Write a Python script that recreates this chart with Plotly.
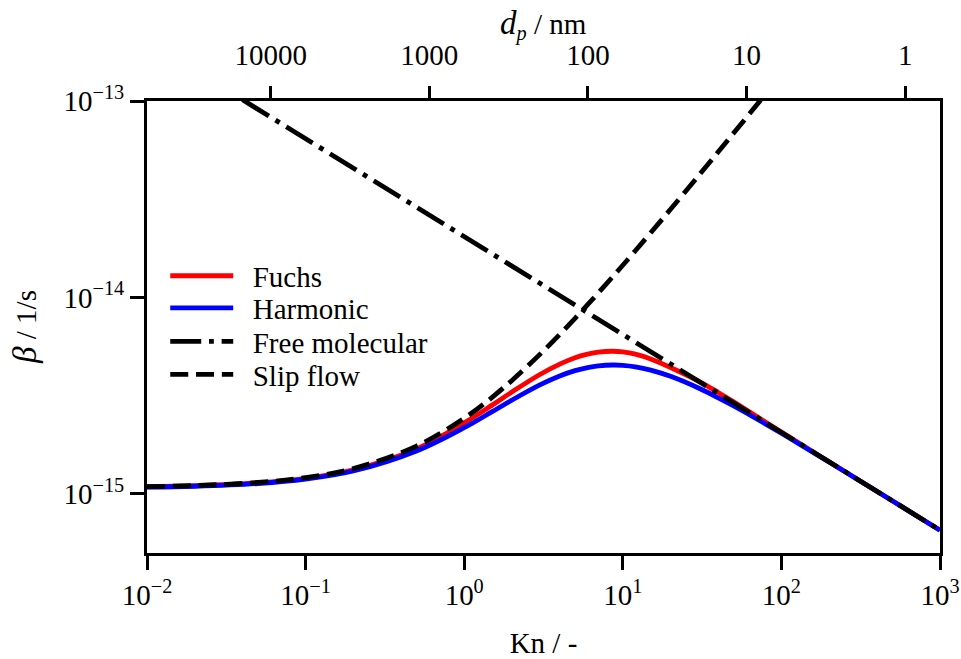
import numpy as np
import plotly.graph_objects as go

# Knudsen numbers at which the curves are sampled
kn = [0.01, 0.02, 0.05, 0.1, 0.2, 0.5, 1, 1.5, 2, 3, 4, 5, 6, 7, 8.7,
      10, 12, 15, 20, 30, 40, 50, 70, 100, 200, 500, 1000]

# Collision kernel beta [1/s]
beta_fuchs = [1.087e-15, 1.100e-15, 1.138e-15, 1.200e-15, 1.327e-15, 1.694e-15,
              2.301e-15, 2.830e-15, 3.301e-15, 4.052e-15, 4.578e-15, 4.937e-15,
              5.142e-15, 5.268e-15, 5.323e-15, 5.278e-15, 5.142e-15, 4.863e-15,
              4.401e-15, 3.751e-15, 3.282e-15, 2.941e-15, 2.478e-15, 2.065e-15,
              1.455e-15, 9.23e-16, 6.53e-16]
beta_harmonic = [1.0828e-15, 1.0937e-15, 1.1286e-15, 1.188e-15, 1.307e-15, 1.652e-15,
                 2.171e-15, 2.620e-15, 3.001e-15, 3.586e-15, 3.981e-15, 4.238e-15,
                 4.395e-15, 4.483e-15, 4.530e-15, 4.511e-15, 4.433e-15, 4.266e-15,
                 3.965e-15, 3.457e-15, 3.082e-15, 2.801e-15, 2.406e-15, 2.034e-15,
                 1.452e-15, 9.222e-16, 6.524e-16]

# Free molecular limit (straight line in log-log)
kn_fm = [0.04, 1000]
beta_fm = [1.015e-13, 6.53e-16]

# Slip flow (continuum with slip correction)
kn_slip = [0.01, 0.02, 0.05, 0.1, 0.2, 0.5, 1, 1.5, 2, 3, 4, 5, 6, 7, 8.7,
           10, 12, 15, 20, 30, 40, 50, 70, 80]
beta_slip = [1.0885e-15, 1.102e-15, 1.1426e-15, 1.210e-15, 1.345e-15, 1.751e-15,
             2.426e-15, 3.102e-15, 3.778e-15, 5.129e-15, 6.480e-15, 7.831e-15,
             9.183e-15, 1.0534e-14, 1.2831e-14, 1.459e-14, 1.729e-14, 2.134e-14,
             2.810e-14, 4.161e-14, 5.513e-14, 6.864e-14, 9.57e-14, 1.092e-13]

# Axis ticks
kn_ticks = [0.01, 0.1, 1, 10, 100, 1000]
kn_ticktext = ["10<sup>\u22122</sup>", "10<sup>\u22121</sup>", "10<sup>0</sup>",
               "10<sup>1</sup>", "10<sup>2</sup>", "10<sup>3</sup>"]
beta_ticks = [1e-15, 1e-14, 1e-13]
beta_ticktext = ["10<sup>\u221215</sup>", "10<sup>\u221214</sup>", "10<sup>\u221213</sup>"]
dp_ticks = [10000, 1000, 100, 10, 1]
dp_ticktext = ["10000", "1000", "100", "10", "1"]

# Kn = 2 * lambda / d_p  (gas mean free path in nm)
MEAN_FREE_PATH_NM = 301.5

KN_RANGE = (0.01, 1000)
BETA_RANGE = (5e-16, 1e-13)

FONT = "Liberation Serif"
FS = 29
LW = 4.8
PAD = "\u2002"

fig = go.Figure()
fig.add_trace(go.Scatter(x=kn, y=beta_fuchs, mode="lines", name=PAD + "Fuchs",
                         line=dict(color="#ff0000", width=LW, shape="spline"),
                         legend="legend"))
fig.add_trace(go.Scatter(x=kn, y=beta_harmonic, mode="lines", name=PAD + "Harmonic",
                         line=dict(color="#0000ff", width=LW, shape="spline"),
                         legend="legend2"))
fig.add_trace(go.Scatter(x=kn_fm, y=beta_fm, mode="lines", name=PAD + "Free molecular",
                         line=dict(color="black", width=LW, dash="31px,7.8px,4.8px,7.8px"),
                         legend="legend3"))
fig.add_trace(go.Scatter(x=kn_slip, y=beta_slip, mode="lines", name=PAD + "Slip flow",
                         line=dict(color="black", width=LW, dash="18px,7.8px", shape="spline"),
                         legend="legend4"))
# Particle diameter counterpart of the free molecular line, carried by the top axis
fig.add_trace(go.Scatter(x=[2 * MEAN_FREE_PATH_NM / k for k in kn_fm], y=beta_fm,
                         xaxis="x2", yaxis="y", mode="lines",
                         line=dict(width=0, color="rgba(0,0,0,0)"),
                         showlegend=False, hoverinfo="skip"))

tickfont = dict(family=FONT, size=FS, color="black")
axis_common = dict(type="log", showgrid=False, zeroline=False, showline=True,
                   linecolor="black", linewidth=3, ticks="outside", tickwidth=3,
                   tickcolor="black", tickfont=tickfont, automargin=False)

legend_common = dict(xanchor="left", yanchor="middle", bgcolor="rgba(0,0,0,0)",
                     borderwidth=0, font=dict(family=FONT, size=FS, color="black"),
                     itemwidth=63)
legend_x = 0.023
legend_rows = [0.613, 0.542, 0.468, 0.395]

fig.update_layout(
    width=961, height=659,
    margin=dict(l=147, r=21, t=101, b=106, pad=0),
    paper_bgcolor="white", plot_bgcolor="white",
    font=dict(family=FONT, size=FS, color="black"),
    showlegend=True,
    xaxis=dict(axis_common, range=[np.log10(KN_RANGE[0]), np.log10(KN_RANGE[1])],
               tickvals=kn_ticks, ticktext=kn_ticktext, ticklen=14, mirror=True,
               title=dict(text="Kn / -", font=dict(family=FONT, size=FS), standoff=23)),
    yaxis=dict(axis_common, range=[np.log10(BETA_RANGE[0]), np.log10(BETA_RANGE[1])],
               tickvals=beta_ticks, ticktext=beta_ticktext, ticklen=14, mirror=True),
    xaxis2=dict(axis_common, overlaying="x", side="top", anchor="y",
                range=[np.log10(2 * MEAN_FREE_PATH_NM / KN_RANGE[0]),
                       np.log10(2 * MEAN_FREE_PATH_NM / KN_RANGE[1])],
                tickvals=dp_ticks, ticktext=dp_ticktext, ticklen=12, ticklabelstandoff=9),
    legend=dict(legend_common, x=legend_x, y=legend_rows[0]),
    legend2=dict(legend_common, x=legend_x, y=legend_rows[1]),
    legend3=dict(legend_common, x=legend_x, y=legend_rows[2]),
    legend4=dict(legend_common, x=legend_x, y=legend_rows[3]),
)

# y-axis title
fig.add_annotation(text="<span style='font-size:33px'><i>\u03b2</i></span> / 1/s",
                   xref="paper", yref="paper", x=-0.154, y=0.5,
                   xanchor="center", yanchor="middle", textangle=-90, showarrow=False,
                   font=dict(family=FONT, size=FS, color="black"))
# top (particle diameter) axis title
fig.add_annotation(text="<span style='font-size:33px'><i>d</i></span><sub><i>p</i></sub> / nm",
                   xref="paper", yref="paper", x=0.5, y=1.168,
                   xanchor="center", yanchor="middle", showarrow=False,
                   font=dict(family=FONT, size=FS, color="black"))

fig.write_html("out.html")
